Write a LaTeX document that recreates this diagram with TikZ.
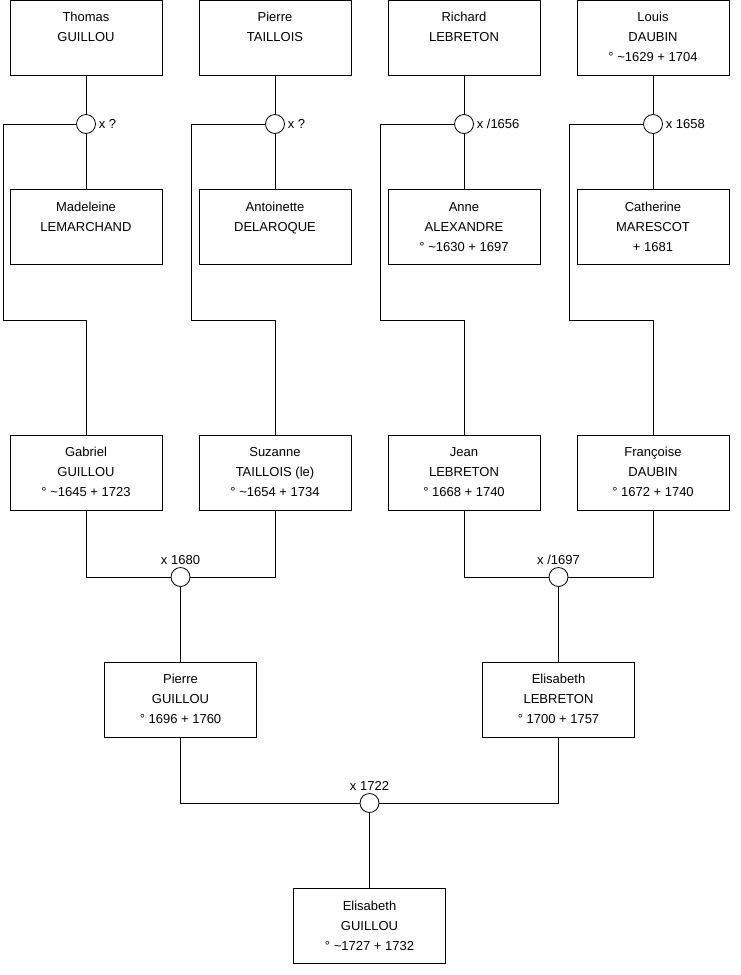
\documentclass[tikz,border=0pt]{standalone}
\usepackage{fontspec}
\setmainfont{Liberation Sans}
\usetikzlibrary{positioning}

\newcommand{\who}[3]{\strut#1\\\strut#2\\\strut#3}
\newcommand{\ca}{\textasciitilde}

\begin{document}
\begin{tikzpicture}[x=1pt,y=1pt,line width=0.8pt,
  person/.style={draw, minimum width=152pt, minimum height=75pt, inner sep=0pt,
    align=center, font=\fontsize{13}{20}\selectfont},
  union/.style={draw, circle, fill=white, minimum size=19pt, inner sep=0pt},
  year/.style={font=\fontsize{13}{16}\selectfont, inner sep=1.5pt}]
  \useasboundingbox (0,0) rectangle (740,-975);
  % grandparents
  \node[person] (thomas)  at (86,-37.5)  {\who{Thomas}{GUILLOU}{}};
  \node[person] (pierreT) at (275,-37.5) {\who{Pierre}{TAILLOIS}{}};
  \node[person] (richard) at (464,-37.5) {\who{Richard}{LEBRETON}{}};
  \node[person] (louis)   at (653,-37.5) {\who{Louis}{DAUBIN}{° \ca1629 + 1704}};
  \node[person] (madeleine) at (86,-227)  {\who{Madeleine}{LEMARCHAND}{}};
  \node[person] (antoinette) at (275,-227) {\who{Antoinette}{DELAROQUE}{}};
  \node[person] (anne)      at (464,-227) {\who{Anne}{ALEXANDRE}{° \ca1630 + 1697}};
  \node[person] (catherine) at (653,-227) {\who{Catherine}{MARESCOT}{+ 1681}};
  \node[union] (m1) at (86,-124) {};
  \node[union] (m2) at (275,-124) {};
  \node[union] (m3) at (464,-124) {};
  \node[union] (m4) at (653,-124) {};
  \node[year, right=1pt of m1] {x ?};
  \node[year, right=1pt of m2] {x ?};
  \node[year, right=1pt of m3] {x /1656};
  \node[year, right=1pt of m4] {x 1658};
  % parents
  \node[person] (gabriel)  at (86,-472.5)  {\who{Gabriel}{GUILLOU}{° \ca1645 + 1723}};
  \node[person] (suzanne)  at (275,-472.5) {\who{Suzanne}{TAILLOIS (le)}{° \ca1654 + 1734}};
  \node[person] (jean)     at (464,-472.5) {\who{Jean}{LEBRETON}{° 1668 + 1740}};
  \node[person] (francoise) at (653,-472.5) {\who{Françoise}{DAUBIN}{° 1672 + 1740}};
  \node[union] (m5) at (180.5,-577) {};
  \node[union] (m6) at (558.5,-577) {};
  \node[year, above=1pt of m5] {x 1680};
  \node[year, above=1pt of m6] {x /1697};
  \node[person] (pierreG)   at (180.5,-699.5) {\who{Pierre}{GUILLOU}{° 1696 + 1760}};
  \node[person] (elisabethL) at (558.5,-699.5) {\who{Elisabeth}{LEBRETON}{° 1700 + 1757}};
  \node[union] (m7) at (369.5,-803) {};
  \node[year, above=1pt of m7] {x 1722};
  \node[person] (elisabethG) at (369.5,-926) {\who{Elisabeth}{GUILLOU}{° \ca1727 + 1732}};
  % bends
  \coordinate (k1) at (3,-320);
  \coordinate (k2) at (191,-320);
  \coordinate (k3) at (380,-320);
  \coordinate (k4) at (569,-320);
  % lines
  \draw (thomas) -- (m1) -- (madeleine);
  \draw (pierreT) -- (m2) -- (antoinette);
  \draw (richard) -- (m3) -- (anne);
  \draw (louis) -- (m4) -- (catherine);
  \draw (m1.west) -| (k1) -| (gabriel.north);
  \draw (m2.west) -| (k2) -| (suzanne.north);
  \draw (m3.west) -| (k3) -| (jean.north);
  \draw (m4.west) -| (k4) -| (francoise.north);
  \draw (gabriel.south) |- (m5.west);
  \draw (m5.east) -| (suzanne.south);
  \draw (jean.south) |- (m6.west);
  \draw (m6.east) -| (francoise.south);
  \draw (m5) -- (pierreG);
  \draw (m6) -- (elisabethL);
  \draw (pierreG.south) |- (m7.west);
  \draw (m7.east) -| (elisabethL.south);
  \draw (m7) -- (elisabethG);
\end{tikzpicture}
\end{document}
